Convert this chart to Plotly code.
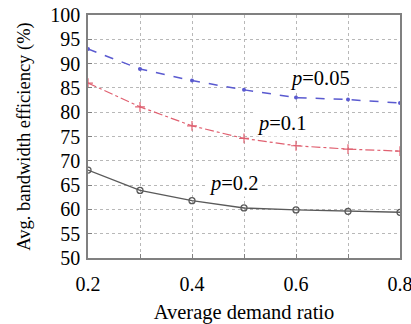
import plotly.graph_objects as go

x_vals = [0.2, 0.3, 0.4, 0.5, 0.6, 0.7, 0.8]
p005 = [93.0, 88.9, 86.5, 84.6, 83.0, 82.6, 81.9]
p01 = [86.0, 81.1, 77.2, 74.6, 73.1, 72.4, 72.0]
p02 = [68.1, 63.9, 61.8, 60.3, 59.9, 59.6, 59.4]
x_grid = [0.2, 0.3, 0.4, 0.5, 0.6, 0.7, 0.8]
x_labels = ["0.2", "", "0.4", "", "0.6", "", "0.8"]
y_ticks = [50, 55, 60, 65, 70, 75, 80, 85, 90, 95, 100]
labels = ["<i>p</i>=0.05", "<i>p</i>=0.1", "<i>p</i>=0.2"]
label_x = [0.646, 0.573, 0.479]
label_y = [87.0, 77.6, 65.4]

FONT = "Liberation Serif, Times New Roman, Times, serif"

fig = go.Figure()
fig.add_trace(go.Scatter(x=x_vals, y=p005, mode="lines+markers",
                         line=dict(color="#5a5ad0", dash="dash", width=1.5),
                         marker=dict(symbol="circle", size=4, color="#5a5ad0"),
                         showlegend=False))
fig.add_trace(go.Scatter(x=x_vals, y=p01, mode="lines+markers",
                         line=dict(color="#e06070", dash="dashdot", width=1.2),
                         marker=dict(symbol="cross-thin", size=7, line=dict(color="#e06070", width=1.2)),
                         showlegend=False))
fig.add_trace(go.Scatter(x=x_vals, y=p02, mode="lines+markers",
                         line=dict(color="#5a5a5a", width=1.4),
                         marker=dict(symbol="circle-open", size=6, color="#5a5a5a", line=dict(width=1.3)),
                         showlegend=False))

for t, ax, ay in zip(labels, label_x, label_y):
    fig.add_annotation(x=ax, y=ay, text=t, showarrow=False, bgcolor="white",
                       font=dict(family=FONT, size=20.5, color="black"), borderpad=1)

fig.update_xaxes(range=[0.2, 0.8], tickmode="array", tickvals=x_grid, ticktext=x_labels,
                 showgrid=True, gridcolor="#b8b8b8", griddash="dot", gridwidth=1,
                 showline=True, linecolor="#808080", linewidth=1.5, mirror=True,
                 ticks="inside", ticklen=4, tickcolor="#808080",
                 tickfont=dict(family=FONT, size=20, color="black"),
                 title=dict(text="Average demand ratio", font=dict(family=FONT, size=20.5, color="black"), standoff=18),
                 zeroline=False, ticklabelstandoff=7, automargin=False, ticklabeloverflow="allow")
fig.update_yaxes(range=[50, 100], tickmode="array", tickvals=y_ticks,
                 showgrid=True, gridcolor="#b8b8b8", griddash="dot", gridwidth=1,
                 showline=True, linecolor="#808080", linewidth=1.5, mirror=True,
                 ticks="inside", ticklen=4, tickcolor="#808080",
                 tickfont=dict(family=FONT, size=20, color="black"),
                 title=dict(text="Avg. bandwidth efficiency (%)", font=dict(family=FONT, size=18.5, color="black"), standoff=15),
                 zeroline=False, ticklabelstandoff=2, automargin=False, ticklabeloverflow="allow")

fig.update_layout(width=411, height=324, margin=dict(l=88, r=11, t=15, b=66),
                  paper_bgcolor="white", plot_bgcolor="white")
fig.write_html("out.html")
